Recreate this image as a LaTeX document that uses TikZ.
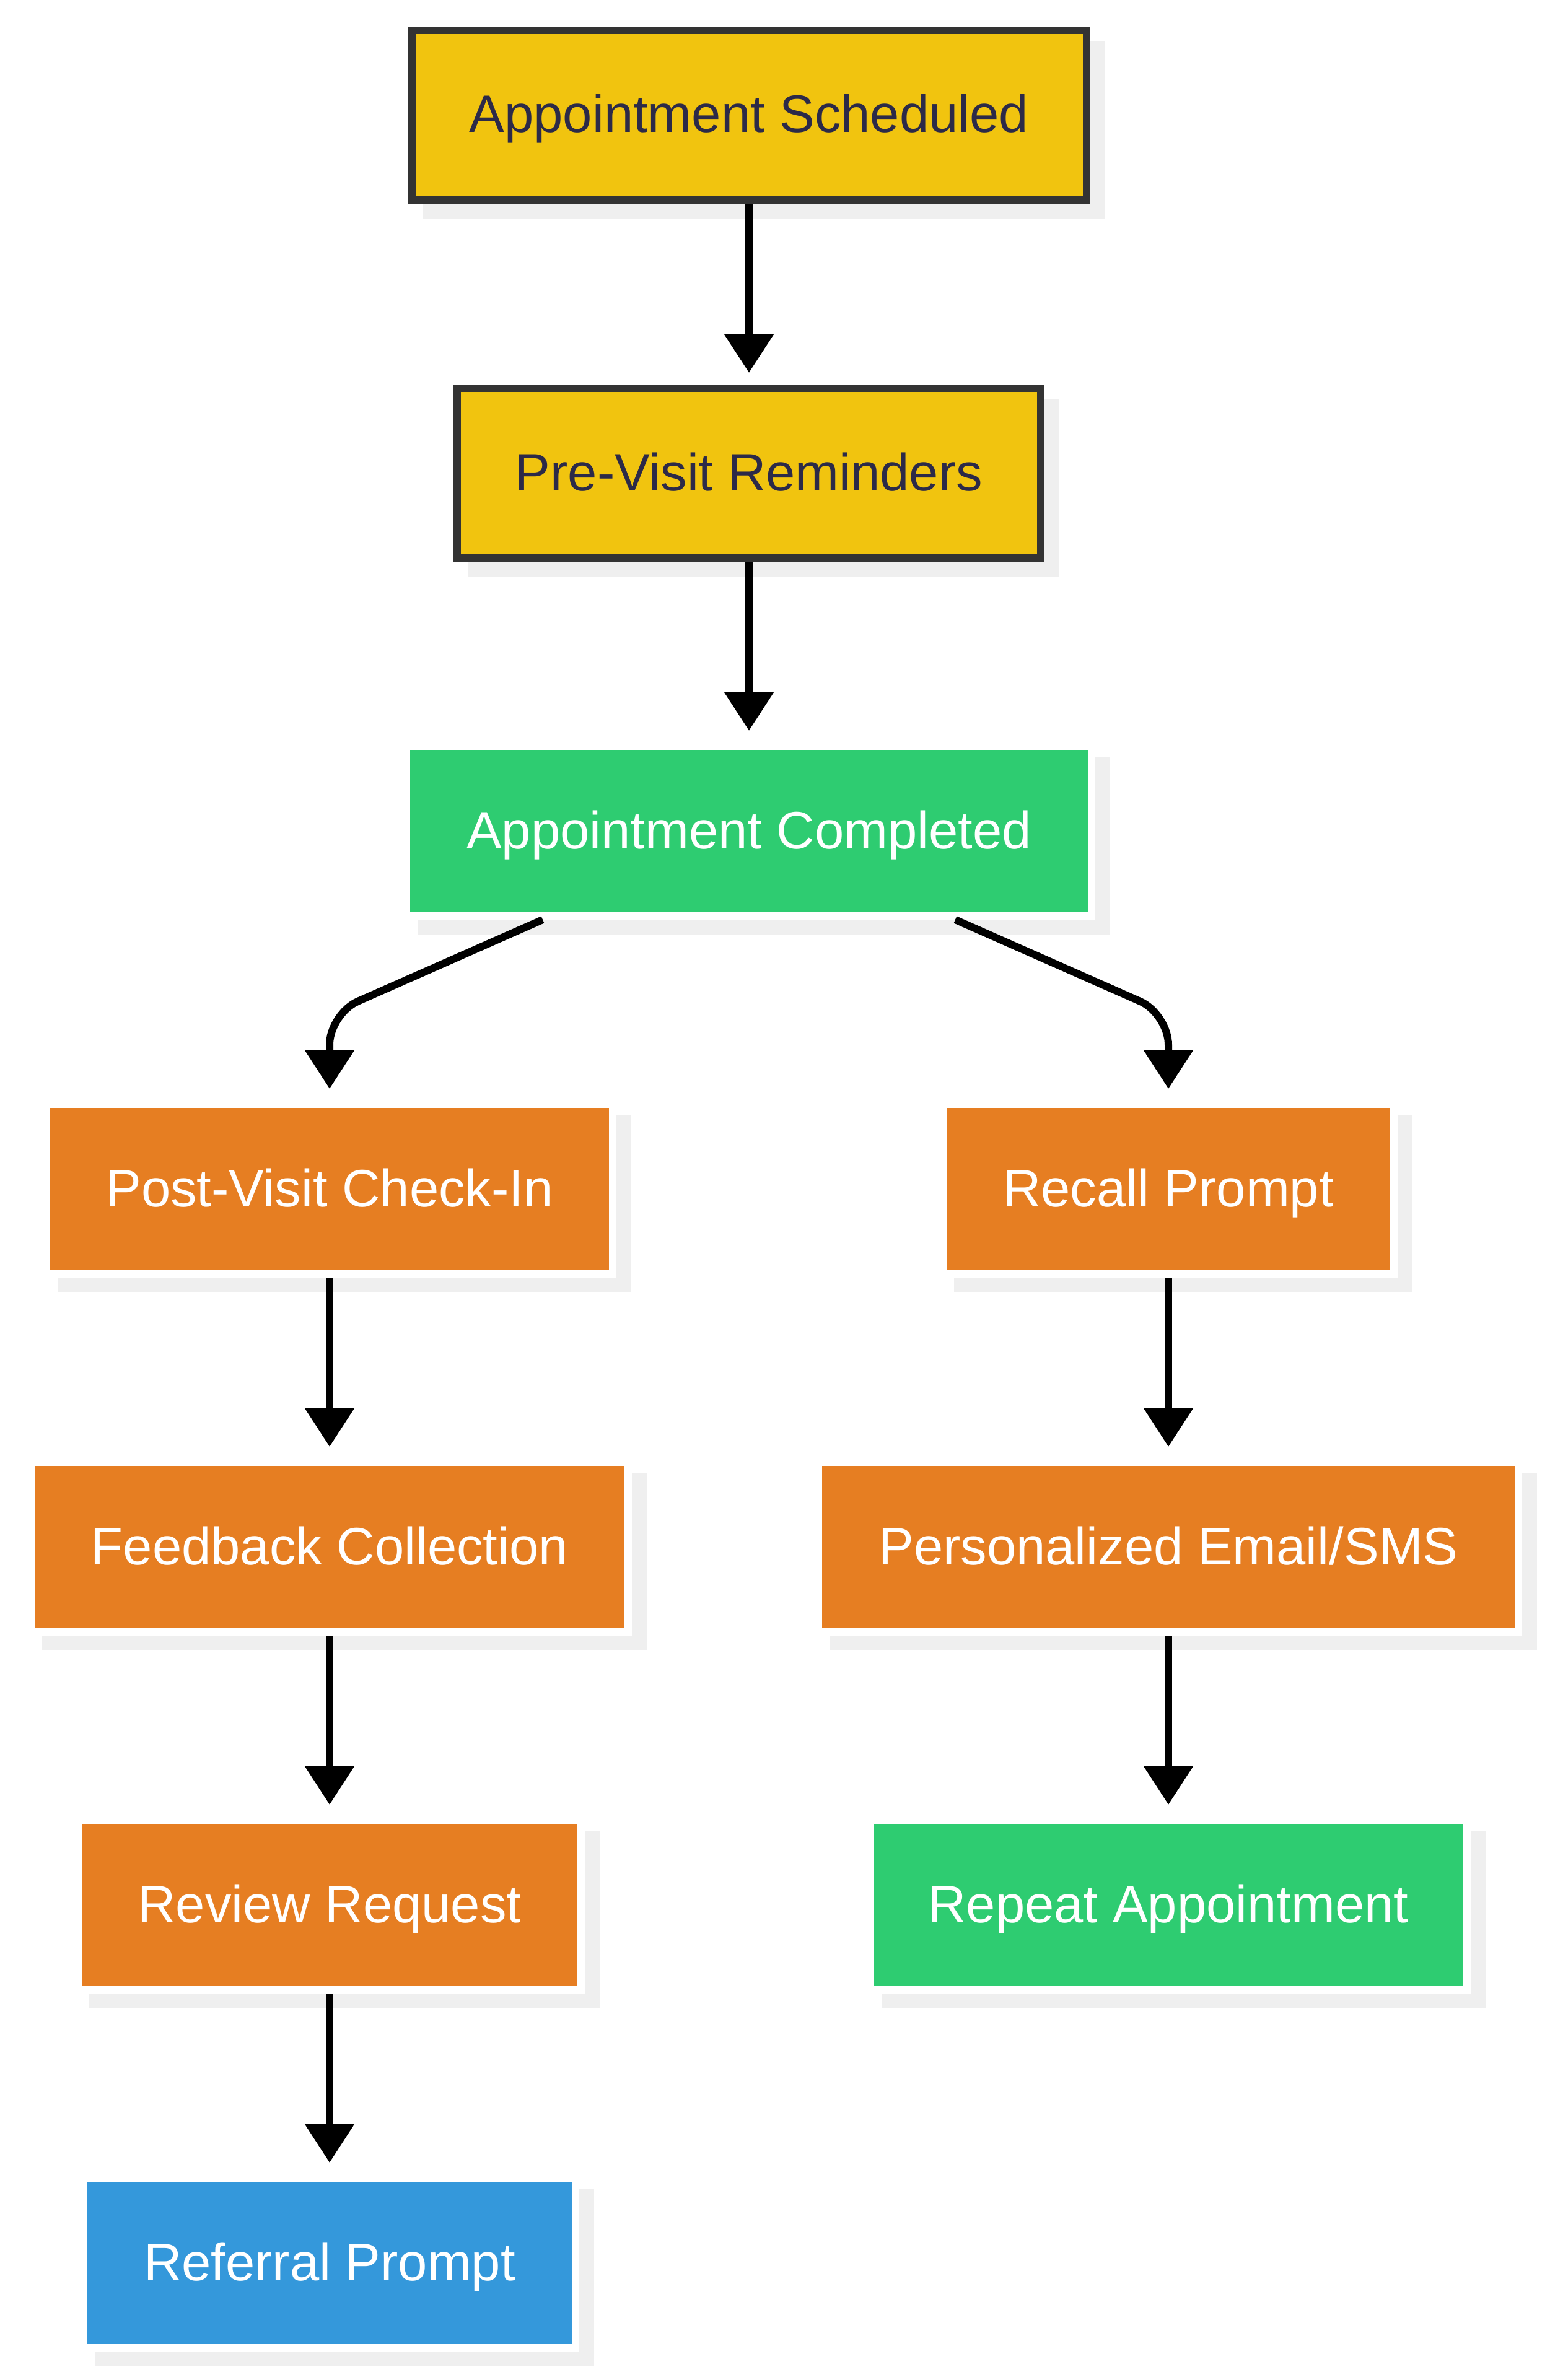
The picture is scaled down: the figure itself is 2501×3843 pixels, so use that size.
\documentclass[tikz,border=0pt]{standalone}
\usepackage{fontspec}
\setmainfont{Liberation Sans}
\usetikzlibrary{arrows.meta}
\definecolor{ylw}{HTML}{F1C40F}
\definecolor{grn}{HTML}{2ECC71}
\definecolor{org}{HTML}{E67E22}
\definecolor{blu}{HTML}{3498DB}
\definecolor{brd}{HTML}{333333}
\definecolor{shd}{HTML}{EFEFEF}
\definecolor{dtext}{HTML}{2C2A48}
\pgfdeclarelayer{bglayer}
\pgfdeclarelayer{shadowlayer}
\pgfsetlayers{bglayer,shadowlayer,main}
\begin{document}
\begin{tikzpicture}[x=1pt,y=-1pt,
  box/.style={rectangle, line width=12pt, minimum height=274pt, inner sep=0pt,
    font=\fontsize{85}{100}\selectfont, text height=56pt, text depth=0pt},
  ybox/.style={box, fill=ylw, draw=brd, text=dtext},
  gbox/.style={box, fill=grn, draw=white, text=white},
  obox/.style={box, fill=org, draw=white, text=white},
  bbox/.style={box, fill=blu, draw=white, text=white},
  arr/.style={line width=12pt, draw=black, -{Triangle[width=78pt,length=63pt]}},
]
\begin{pgfonlayer}{bglayer}
\fill[white] (0,0) rectangle (2501,3843);
\end{pgfonlayer}
\useasboundingbox (0,0) rectangle (2501,3843);

\node[ybox, minimum width=1089pt] (as) at (1209,186) {Appointment Scheduled};
\node[ybox, minimum width=942pt] (pvr) at (1209,764) {Pre-Visit Reminders};
\node[gbox, minimum width=1106pt] (ac) at (1209,1342) {Appointment Completed};
\node[obox, minimum width=914pt] (pvci) at (532,1920) {Post-Visit Check-In};
\node[obox, minimum width=728pt] (rp) at (1886,1920) {Recall Prompt};
\node[obox, minimum width=964pt] (fc) at (532,2498) {Feedback Collection};
\node[obox, minimum width=1130pt] (pes) at (1886,2498) {Personalized Email/SMS};
\node[obox, minimum width=812pt] (rr) at (532,3076) {Review Request};
\node[gbox, minimum width=963pt] (ra) at (1886,3076) {Repeat Appointment};
\node[bbox, minimum width=794pt] (ref) at (532,3654) {Referral Prompt};

\begin{pgfonlayer}{shadowlayer}
\foreach \n in {as,pvr,ac,pvci,rp,fc,pes,rr,ra,ref}
  \fill[shd] ([shift={(24pt,-24pt)}]\n.north west) rectangle ([shift={(24pt,-24pt)}]\n.south east);
\end{pgfonlayer}

\coordinate (cl) at (532,1637);
\coordinate (cr) at (1886,1637);

\draw[arr] (as.south) -- ([yshift=19pt]pvr.north);
\draw[arr] (pvr.south) -- ([yshift=19pt]ac.north);
\draw[arr, rounded corners=50pt] ([xshift=-333pt]ac.south) -- (cl) -- ([yshift=19pt]pvci.north);
\draw[arr, rounded corners=50pt] ([xshift=333pt]ac.south) -- (cr) -- ([yshift=19pt]rp.north);
\draw[arr] (pvci.south) -- ([yshift=19pt]fc.north);
\draw[arr] (fc.south) -- ([yshift=19pt]rr.north);
\draw[arr] (rr.south) -- ([yshift=19pt]ref.north);
\draw[arr] (rp.south) -- ([yshift=19pt]pes.north);
\draw[arr] (pes.south) -- ([yshift=19pt]ra.north);
\end{tikzpicture}
\end{document}
